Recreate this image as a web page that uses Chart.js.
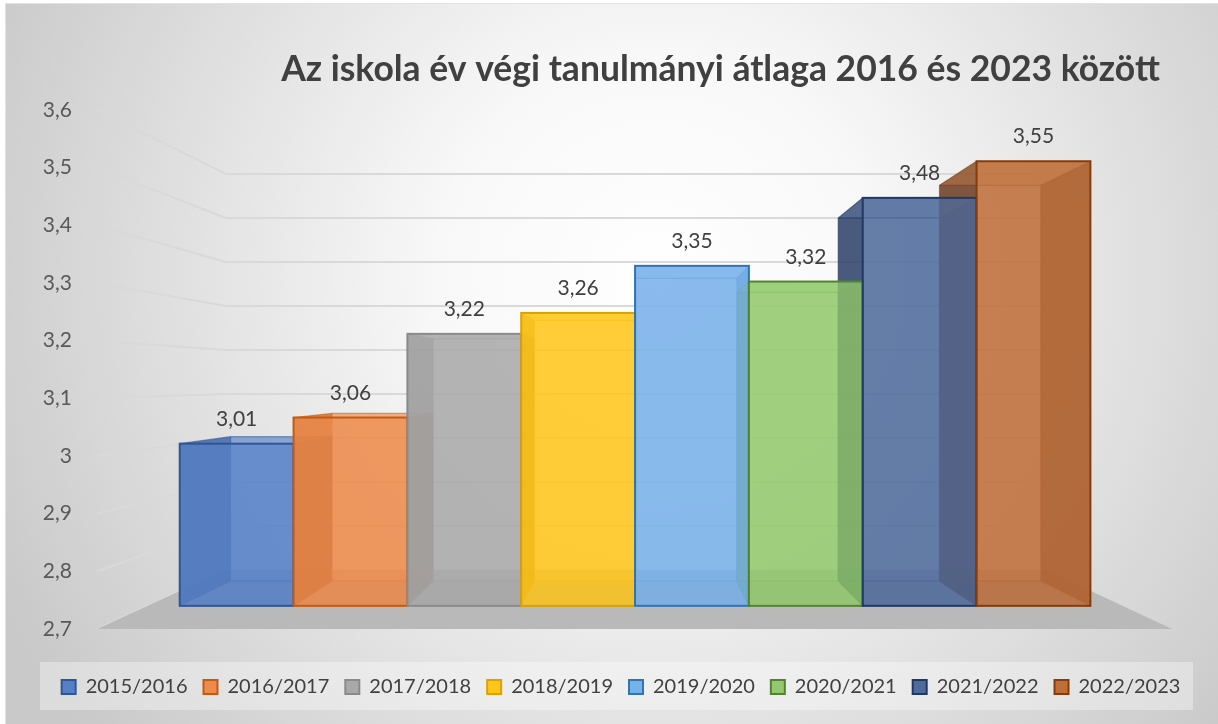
<!DOCTYPE html>
<html>
<head>
<meta charset="utf-8">
<script src="https://cdn.jsdelivr.net/npm/chart.js@4"></script>
<style>
  html, body { margin: 0; padding: 0; background: #fff; }
</style>
</head>
<body>
<canvas id="atlagChart" width="1218" height="724"></canvas>
<script>
const seasons = ["2015/2016", "2016/2017", "2017/2018", "2018/2019", "2019/2020", "2020/2021", "2021/2022", "2022/2023"];
const averages = [3.01, 3.06, 3.22, 3.26, 3.35, 3.32, 3.48, 3.55];
const yTickLabels = ["2,7", "2,8", "2,9", "3", "3,1", "3,2", "3,3", "3,4", "3,5", "3,6"];

const faceColors = ["#5580c8", "#ee8a4a", "#a9a9a9", "#ffc61a", "#78b0ea", "#92c96c", "#4f6b9c", "#bf6e38"];
const sideColors = ["#2f4f8c", "#b85a1c", "#7a7a7a", "#c99500", "#3f7fc0", "#5e9a3c", "#24365e", "#5e3119"];
const edgeColors = ["#2f5597", "#c55a11", "#8a8a8a", "#d9a300", "#2e75b6", "#548235", "#1f3864", "#843c0c"];

const title = "Az iskola év végi tanulmányi átlaga 2016 és 2023 között";
const FONT = "Lato, 'Open Sans', sans-serif";

// perspective: label plane -> bar front plane -> bar back plane -> back wall
const S_FRONT = 0.907, S_BACK = 0.807, S_WALL = 0.763;

function vanish(a) {
  return { x: (a.left + a.right) / 2 + 6, y: a.top + (a.bottom - a.top) * 0.52 };
}
function proj(v, x, y, s) {
  return { x: v.x + (x - v.x) * s, y: v.y + (y - v.y) * s };
}
function poly(ctx, pts, fill, alpha) {
  ctx.beginPath();
  ctx.moveTo(pts[0].x, pts[0].y);
  for (let i = 1; i < pts.length; i++) ctx.lineTo(pts[i].x, pts[i].y);
  ctx.closePath();
  ctx.globalAlpha = alpha;
  ctx.fillStyle = fill;
  ctx.fill();
  ctx.globalAlpha = 1;
}
function line(ctx, p, q) {
  ctx.beginPath();
  ctx.moveTo(p.x, p.y);
  ctx.lineTo(q.x, q.y);
  ctx.stroke();
}

const excel3d = {
  id: "excel3d",
  beforeDraw(chart) {
    const { ctx, width, height, chartArea: a, legend } = chart;
    ctx.save();
    const g = ctx.createRadialGradient(width * 0.54, height * 0.38, 0, width * 0.54, height * 0.38, width * 0.6);
    g.addColorStop(0, "#ffffff");
    g.addColorStop(0.3, "#f8f8f8");
    g.addColorStop(1, "#c9c9c9");
    ctx.fillStyle = g;
    ctx.fillRect(5, 3, width - 5, height - 3);
    ctx.strokeStyle = "#e2e2e2";
    ctx.lineWidth = 1;
    ctx.strokeRect(5.5, 3.5, width, height);

    // lighter band behind the legend
    ctx.fillStyle = "rgba(255,255,255,0.35)";
    ctx.fillRect(legend.left + 16, legend.top + 1, legend.right - legend.left - 41, legend.bottom - legend.top + 2);

    // title
    ctx.fillStyle = "#404040";
    ctx.font = "bold 100px " + FONT;
    const size = 100 * 879 / ctx.measureText(title).width;
    ctx.font = "bold " + size.toFixed(1) + "px " + FONT;
    ctx.textAlign = "center";
    ctx.textBaseline = "alphabetic";
    ctx.fillText(title, a.left + (a.right - a.left) * 0.58, a.top - 29);
    ctx.restore();
  },
  beforeDatasetsDraw(chart) {
    const { ctx, chartArea: a, scales } = chart;
    const v = vanish(a);
    const yScale = scales.y;
    const floorY = yScale.getPixelForValue(yScale.min);
    ctx.save();

    // walls: left wall + back wall grid lines
    ctx.strokeStyle = "#d9d9d9";
    ctx.lineWidth = 2;
    yScale.ticks.forEach((t) => {
      const yl = yScale.getPixelForValue(t.value);
      const p0 = { x: a.left, y: yl };
      const p1 = proj(v, a.left, yl, S_WALL);
      const p2 = proj(v, a.right, yl, S_WALL);
      line(ctx, p0, p1);
      line(ctx, p1, p2);
    });

    // floor
    poly(ctx, [
      { x: a.left, y: floorY },
      { x: a.right, y: floorY },
      proj(v, a.right, floorY, S_WALL),
      proj(v, a.left, floorY, S_WALL),
    ], "#b9b9b9", 1);

    // box corners from the bar elements
    const boxes = chart.data.datasets.map((ds, i) => {
      const bar = chart.getDatasetMeta(i).data[0];
      const { x, y, width } = bar.getProps(["x", "y", "width"], true);
      const L = x - width / 2, R = x + width / 2;
      return {
        fLT: proj(v, L, y, S_FRONT), fRT: proj(v, R, y, S_FRONT),
        fLB: proj(v, L, floorY, S_FRONT), fRB: proj(v, R, floorY, S_FRONT),
        kLT: proj(v, L, y, S_BACK), kRT: proj(v, R, y, S_BACK),
        kLB: proj(v, L, floorY, S_BACK), kRB: proj(v, R, floorY, S_BACK),
        top: proj(v, x, y, S_FRONT),
      };
    });

    // pass 1: back, bottom, sides, top
    boxes.forEach((b, i) => {
      poly(ctx, [b.kLT, b.kRT, b.kRB, b.kLB], faceColors[i], 0.35);
      poly(ctx, [b.fLB, b.fRB, b.kRB, b.kLB], sideColors[i], 0.25);
      poly(ctx, [b.fLT, b.kLT, b.kLB, b.fLB], sideColors[i], 0.75);
      poly(ctx, [b.fRT, b.kRT, b.kRB, b.fRB], sideColors[i], 0.75);
      poly(ctx, [b.fLT, b.fRT, b.kRT, b.kLT], faceColors[i], 0.45);
      ctx.strokeStyle = edgeColors[i];
      ctx.globalAlpha = 0.55;
      ctx.lineWidth = 1.2;
      line(ctx, b.kLT, b.kRT); line(ctx, b.kRT, b.kRB); line(ctx, b.kRB, b.kLB); line(ctx, b.kLB, b.kLT);
      line(ctx, b.fLT, b.kLT); line(ctx, b.fRT, b.kRT); line(ctx, b.fLB, b.kLB); line(ctx, b.fRB, b.kRB);
      ctx.globalAlpha = 1;
    });

    // pass 2: front faces
    boxes.forEach((b, i) => {
      poly(ctx, [b.fLT, b.fRT, b.fRB, b.fLB], faceColors[i], 0.8);
      ctx.strokeStyle = edgeColors[i];
      ctx.lineWidth = 2;
      ctx.strokeRect(b.fLT.x, b.fLT.y, b.fRT.x - b.fLT.x, b.fLB.y - b.fLT.y);
    });

    // value labels
    ctx.fillStyle = "#404040";
    ctx.font = "21px " + FONT;
    ctx.textAlign = "center";
    ctx.textBaseline = "alphabetic";
    boxes.forEach((b, i) => {
      const value = chart.data.datasets[i].data[0];
      ctx.fillText(String(value).replace(".", ","), b.top.x, b.top.y - 18);
    });

    ctx.restore();
    return false;
  },
};

const ctx = document.getElementById("atlagChart").getContext("2d");
const atlagChart = new Chart(ctx, {
  type: "bar",
  data: {
    labels: ["Átlag"],
    datasets: seasons.map((s, i) => ({
      label: s,
      data: [averages[i]],
      backgroundColor: faceColors[i],
      borderColor: edgeColors[i],
      borderWidth: 2,
    })),
  },
  options: {
    responsive: false,
    animation: false,
    categoryPercentage: 0.934,
    barPercentage: 1,
    layout: {
      padding: { left: 24, right: 0, top: 110, bottom: 17 },
    },
    scales: {
      x: {
        grid: { display: false },
        border: { display: false },
        ticks: { display: false },
        afterFit: (s) => { s.height = 32; },
      },
      y: {
        min: 2.7,
        max: 3.6,
        grid: { display: false, drawTicks: false },
        border: { display: false },
        ticks: {
          stepSize: 0.1,
          padding: 25,
          color: "#595959",
          font: { family: FONT, size: 21 },
          callback: (value, index) => yTickLabels[index],
        },
        afterFit: (s) => { s.width = 73; },
      },
      yRight: {
        position: "right",
        grid: { display: false },
        border: { display: false },
        ticks: { display: false },
        afterFit: (s) => { s.width = 46; },
      },
    },
    plugins: {
      title: { display: false },
      tooltip: { enabled: false },
      legend: {
        position: "bottom",
        labels: {
          boxWidth: 14,
          boxHeight: 14,
          padding: 16,
          color: "#404040",
          font: { family: FONT, size: 20 },
        },
      },
    },
  },
  plugins: [excel3d],
});
</script>
</body>
</html>
